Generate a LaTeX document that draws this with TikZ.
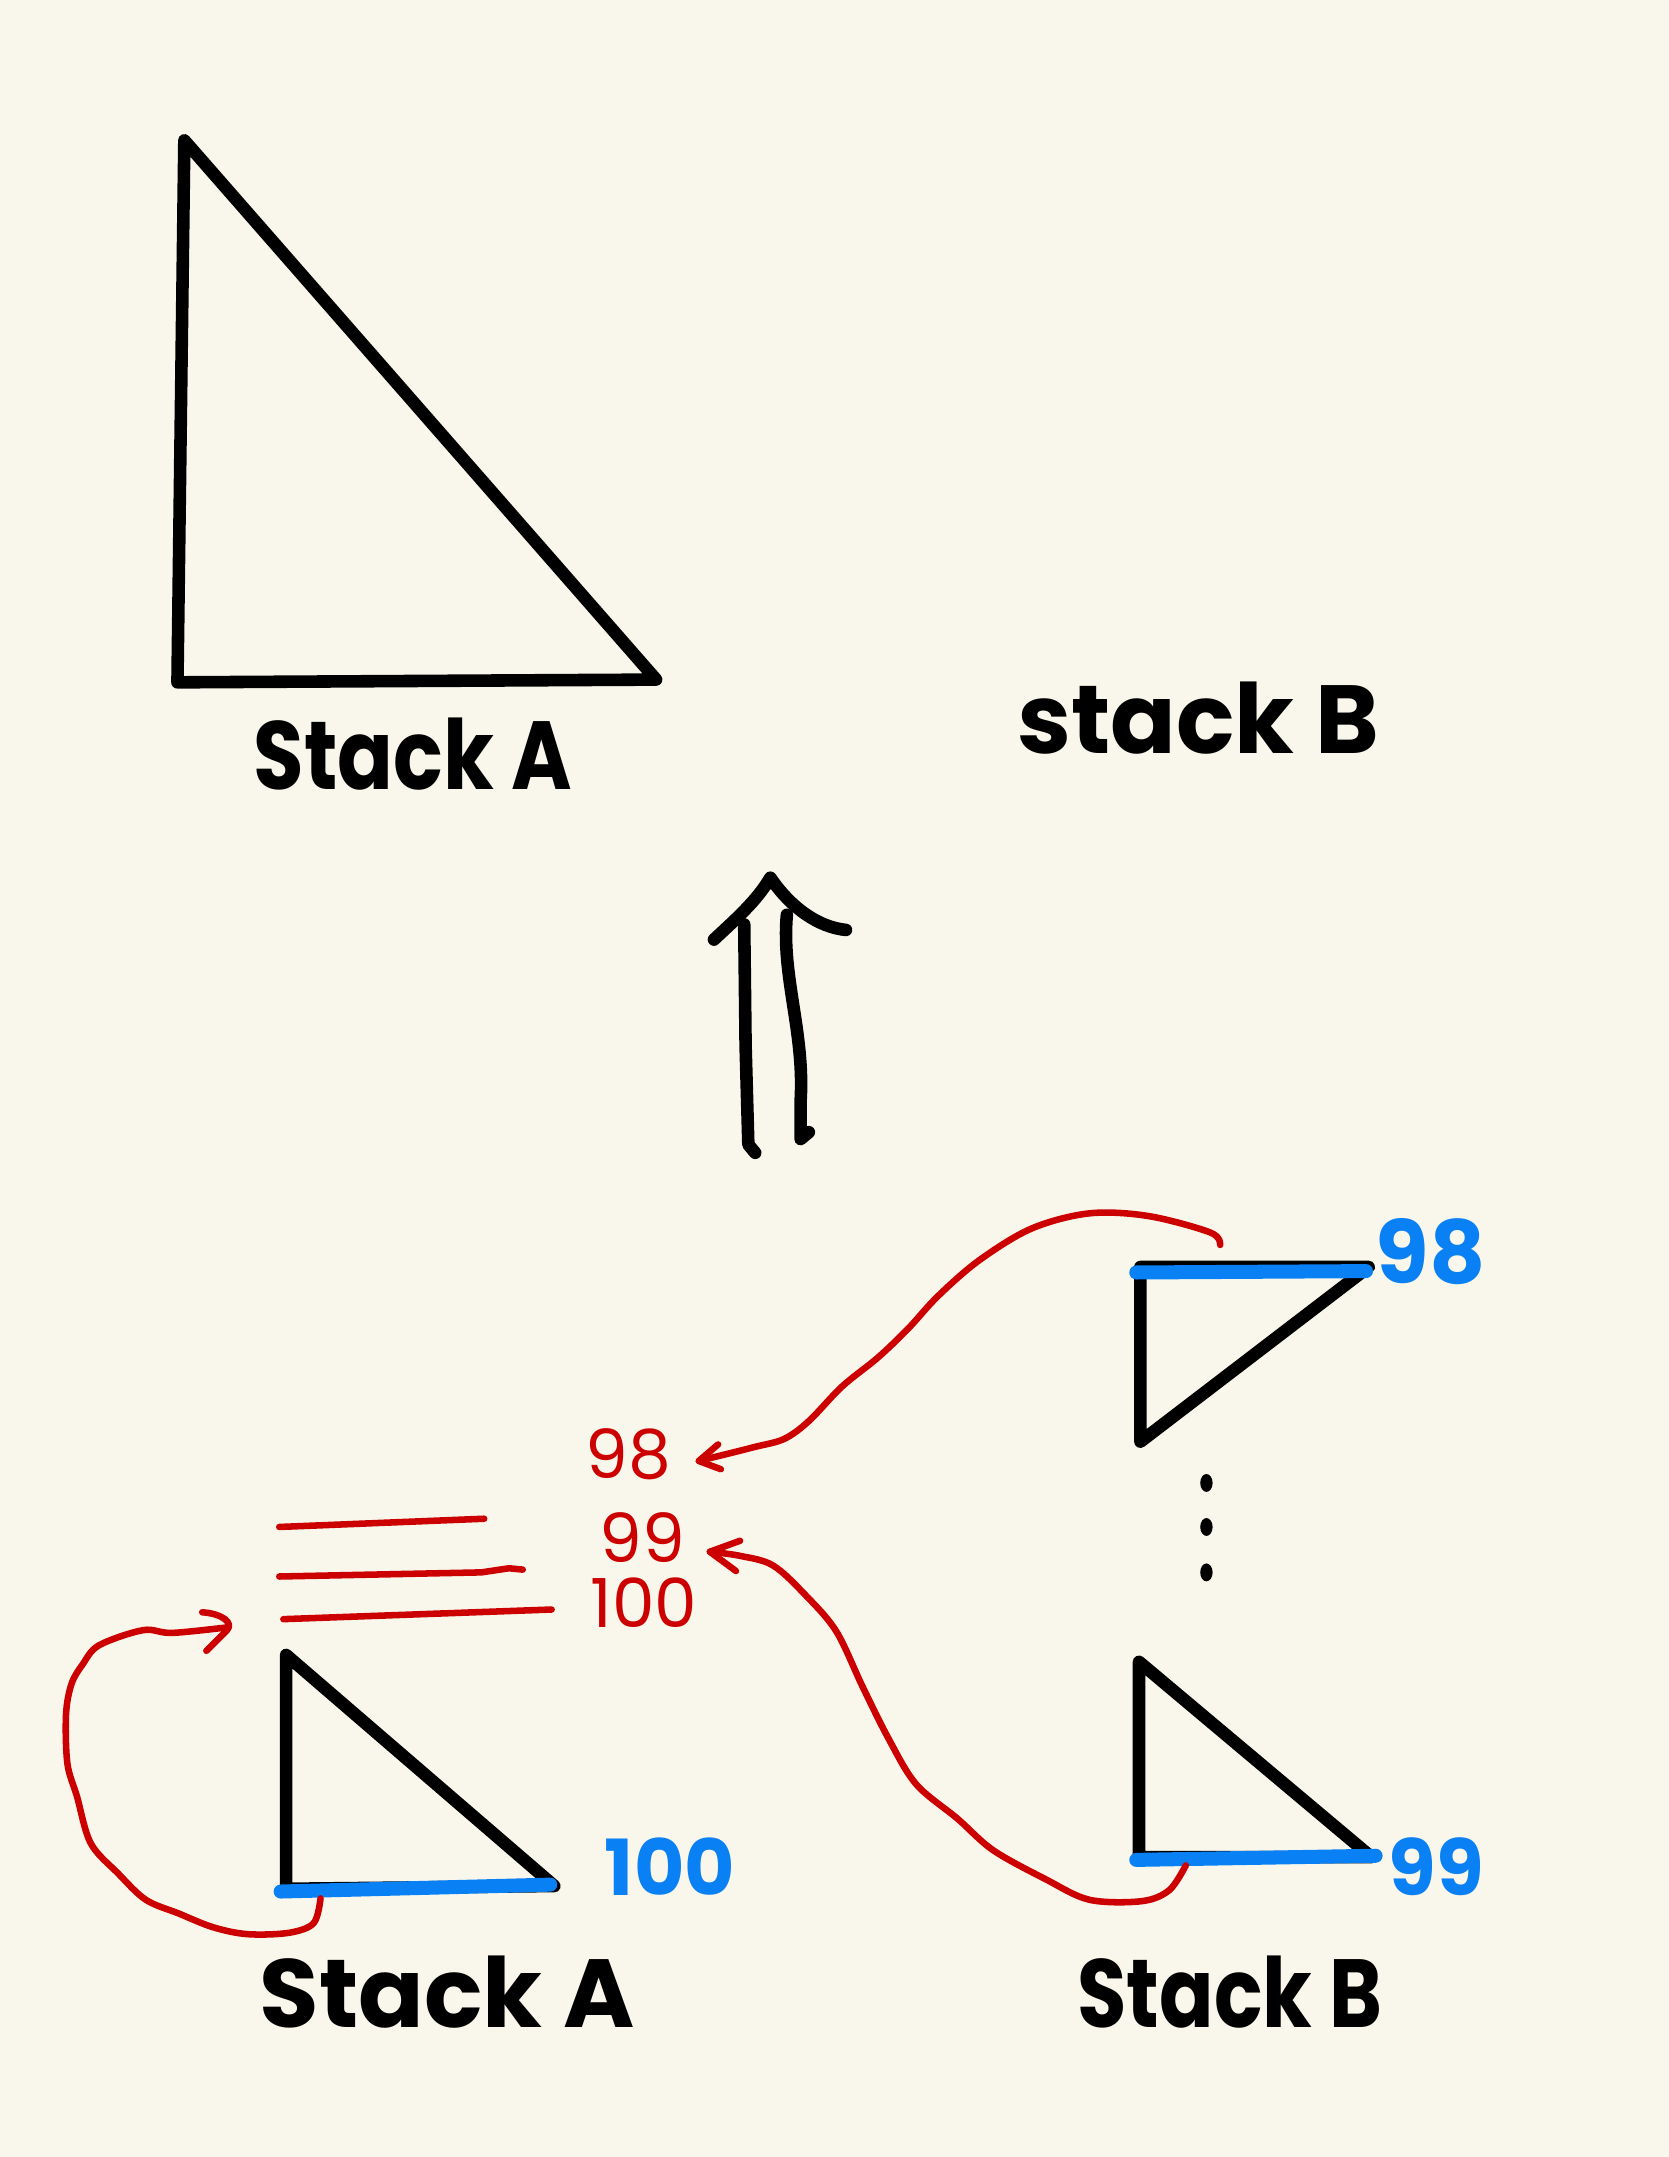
\documentclass[tikz,border=0pt]{standalone}
\usepackage{fontspec}
\setmainfont{Poppins}
\definecolor{paper}{HTML}{F9F7EB}
\definecolor{pen}{HTML}{CC0000}
\definecolor{hl}{HTML}{0A80F5}
\begin{document}
\begin{tikzpicture}[x=0.01cm,y=-0.01cm,
  ink/.style={line width=2.6pt,line cap=round,line join=round},
  redink/.style={draw=pen,line width=1.35pt,line cap=round,line join=round},
  blueink/.style={draw=hl,line width=2.9pt,line cap=round},
  stacklabel/.style={font=\bfseries\fontsize{20}{20}\selectfont,inner sep=0pt},
  rednum/.style={text=pen,font=\fontsize{14}{14}\selectfont,inner sep=0pt},
  bluenum/.style={text=hl,font=\bfseries\fontsize{17}{17}\selectfont,inner sep=0pt}]
\fill[paper] (0,0) rectangle (1213,1568);
\useasboundingbox (0,0) rectangle (1213,1568);

% top triangle
\draw[ink] (134,102) -- (477,494) -- (129,496) -- cycle;
\node[stacklabel,xscale=0.85] (lblA1) at (300,548) {Stack A};
\node[stacklabel] (lblB1) at (871,522) {stack B};

% double arrow
\coordinate (apex) at (560,638);
\draw[ink] (541,672) -- (542,760) -- (544,832) -- (549,838);
\draw[ink] (572,665) .. controls (568,710) and (585,750) .. (582,800) -- (582,828) -- (588,823);
\draw[ink] (519,683) .. controls (535,668) and (550,655) .. (apex) .. controls (575,660) and (595,674) .. (615,676);

% stack B top triangle
\draw[ink] (829,921) -- (995,921) -- (829,1048) -- cycle;
\draw[blueink] (826,925) -- (993,924);
\node[bluenum,font=\bfseries\fontsize{18}{18}\selectfont] (b98) at (1040,910) {98};

% dots
\fill (877,1078) ellipse (4.5 and 6.5);
\fill (877,1110) ellipse (4.5 and 6.5);
\fill (877,1143) ellipse (4.5 and 6.5);

% stack B bottom triangle
\draw[ink] (828,1208) -- (997,1350) -- (828,1350) -- cycle;
\draw[blueink] (826,1352) -- (1000,1349);
\node[bluenum,font=\bfseries\fontsize{16}{16}\selectfont] (b99) at (1044,1357) {99};
\node[stacklabel,xscale=0.83] (lblB2) at (894,1448) {Stack B};

% stack A bottom triangle
\draw[ink] (208,1203) -- (403,1371) -- (208,1373) -- cycle;
\draw[blueink] (204,1375) -- (400,1370);
\node[bluenum,font=\bfseries\fontsize{16}{16}\selectfont] (b100) at (487,1357) {100};
\node[stacklabel] (lblA2) at (325,1448) {Stack A};

% red stack lines
\draw[redink] (203,1110) -- (352,1104);
\draw[redink] (203,1146) -- (350,1143) -- (370,1140) -- (380,1141);
\draw[redink] (206,1177) -- (401,1170);

% red numbers
\node[rednum] (r98) at (457,1057) {98};
\node[rednum] (r99) at (467,1118) {99};
\node[rednum] (r100) at (468,1165) {100};

% red arrow 1 (98 from B top)
\coordinate (s98) at (887,905);
\coordinate (t98) at (508,1062);
\draw[redink] plot[smooth,tension=0.55] coordinates {(s98) (880,896) (835,884) (792,882) (750,893) (712,916) (682,942) (660,966) (638,987) (612,1008) (588,1033) (570,1046) (548,1052) (t98)};
\draw[redink] (522,1050) -- (t98) -- (524,1068);

% red arrow 2 (99 from B bottom)
\coordinate (s99) at (862,1356);
\coordinate (t99) at (516,1128);
\draw[redink] plot[smooth,tension=0.55] coordinates {(s99) (850,1374) (830,1382) (792,1381) (760,1366) (722,1345) (696,1322) (666,1297) (646,1264) (627,1226) (608,1186) (586,1160) (562,1138) (538,1131) (t99)};
\draw[redink] (538,1120) -- (t99) -- (535,1142);

% red arrow 3 (100 from A bottom)
\coordinate (s100) at (233,1380);
\coordinate (t100) at (165,1183);
\draw[redink] plot[smooth,tension=0.55] coordinates {(s100) (228,1398) (210,1405) (180,1406) (155,1401) (130,1391) (106,1381) (86,1362) (66,1340) (56,1306) (49,1282) (48,1246) (52,1224) (60,1210) (72,1196) (104,1185) (125,1187) (t100)};
\draw[redink] (147,1172) .. controls (162,1173) and (170,1180) .. (165,1185) -- (150,1200);
\end{tikzpicture}
\end{document}
